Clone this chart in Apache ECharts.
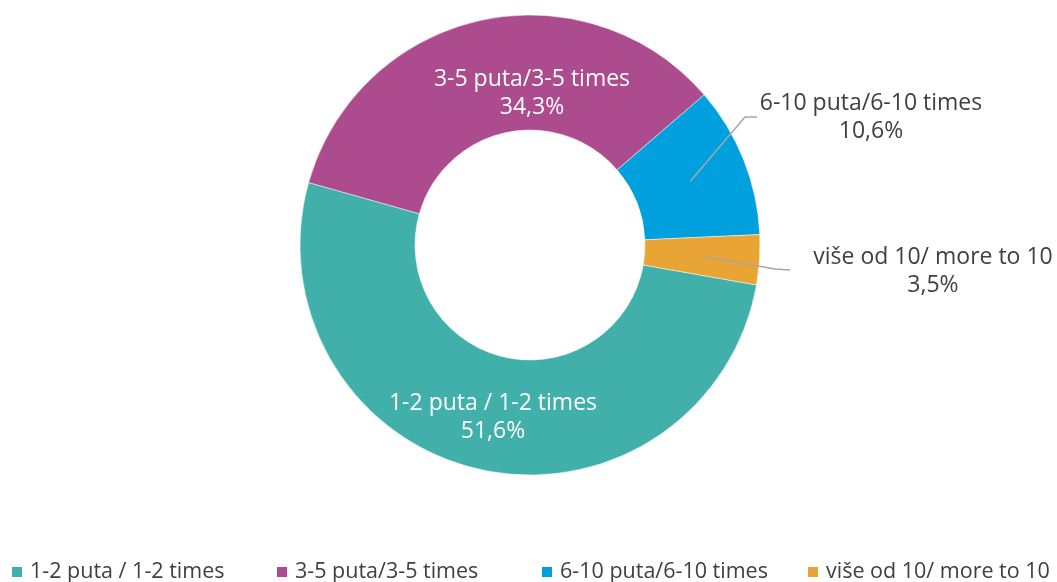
<!DOCTYPE html>
<html><head><meta charset="utf-8">
<script src="https://cdn.jsdelivr.net/npm/echarts@6/dist/echarts.min.js"></script>
<style>html,body{margin:0;padding:0;background:#fff}#c{width:1057px;height:582px}</style>
</head><body><div id="c"></div>
<script>
var categories = ['1-2 puta / 1-2 times', '3-5 puta/3-5 times', '6-10 puta/6-10 times', 'više od 10/ more to 10'];
var values = [51.6, 34.3, 10.6, 3.5];
var colors = ['#42B0AA', '#AD4B8F', '#00A0DE', '#E8A434'];

var CX = 530, CY = 245, R0 = 115, R1 = 230, START = -10;
// label layout (positions of text blocks, centre x/y) and leader-line bends
var labelLayoutCfg = [
  { x: 493, y: 417 },
  { x: 532, y: 93 },
  { x: 871, y: 117, bend: [745, 117], end: [757, 117] },
  { x: 933, y: 271, bend: [775, 269], end: [790, 270] }
];
var legendLefts = [10, 275, 540, 806];
var total = values.reduce(function (a, b) { return a + b; }, 0);
function midAngle(i) {
  var cum = 0;
  for (var k = 0; k < i; k++) cum += values[k];
  return (START - (cum + values[i] / 2) / total * 360) * Math.PI / 180;
}
function fmt(p) { return p.name + '\n' + p.value.toFixed(1).replace('.', ',') + '%'; }

var chart = echarts.init(document.getElementById('c'), null, { renderer: 'canvas' });
var FONT = '"Open Sans", sans-serif';
var labelBase = { fontFamily: FONT, fontSize: 23, lineHeight: 28, align: 'center', formatter: fmt };
function layoutFn(p) {
  var cfg = labelLayoutCfg[p.dataIndex];
  var out = { x: cfg.x, y: cfg.y, align: 'center', verticalAlign: 'middle' };
  if (cfg.bend) {
    var a = midAngle(p.dataIndex), rm = (R0 + R1) / 2;
    out.labelLinePoints = [[CX + rm * Math.cos(a), CY - rm * Math.sin(a)], cfg.bend, cfg.end];
  }
  return out;
}
chart.setOption({
  animation: false,
  color: colors,
  legend: categories.map(function (c, i) {
    return {
      top: 561, left: legendLefts[i], padding: 0,
      icon: 'rect', itemWidth: 12, itemHeight: 12, itemGap: 0,
      textStyle: { fontFamily: FONT, fontSize: 21.5, color: '#404040', padding: [0, 0, 0, 2] },
      data: [c]
    };
  }),
  series: [{
    type: 'pie',
    center: [CX, CY],
    radius: [R0, R1],
    startAngle: START,
    clockwise: true,
    avoidLabelOverlap: false,
    itemStyle: { borderColor: '#ffffff', borderWidth: 0.5 },
    label: labelBase,
    labelLayout: layoutFn,
    data: categories.map(function (c, i) {
      var inside = i < 2;
      return {
        name: c, value: values[i],
        label: { show: inside, position: 'inside', color: '#ffffff' },
        labelLine: { show: false }
      };
    })
  }, {
    // overlay of the same slices, transparent, carrying the outside labels so leader lines sit on top
    type: 'pie',
    z: 5,
    silent: true,
    legendHoverLink: false,
    center: [CX, CY],
    radius: [R0, R1],
    startAngle: START,
    clockwise: true,
    avoidLabelOverlap: false,
    itemStyle: { color: 'rgba(0,0,0,0)' },
    label: labelBase,
    labelLine: { lineStyle: { color: '#A6A6A6', width: 1.5 }, length: 20, length2: 10 },
    labelLayout: layoutFn,
    data: categories.map(function (c, i) {
      var outside = i >= 2;
      return {
        name: c, value: values[i],
        label: { show: outside, position: 'outside', color: '#404040' },
        labelLine: { show: outside }
      };
    })
  }]
});
</script></body></html>
